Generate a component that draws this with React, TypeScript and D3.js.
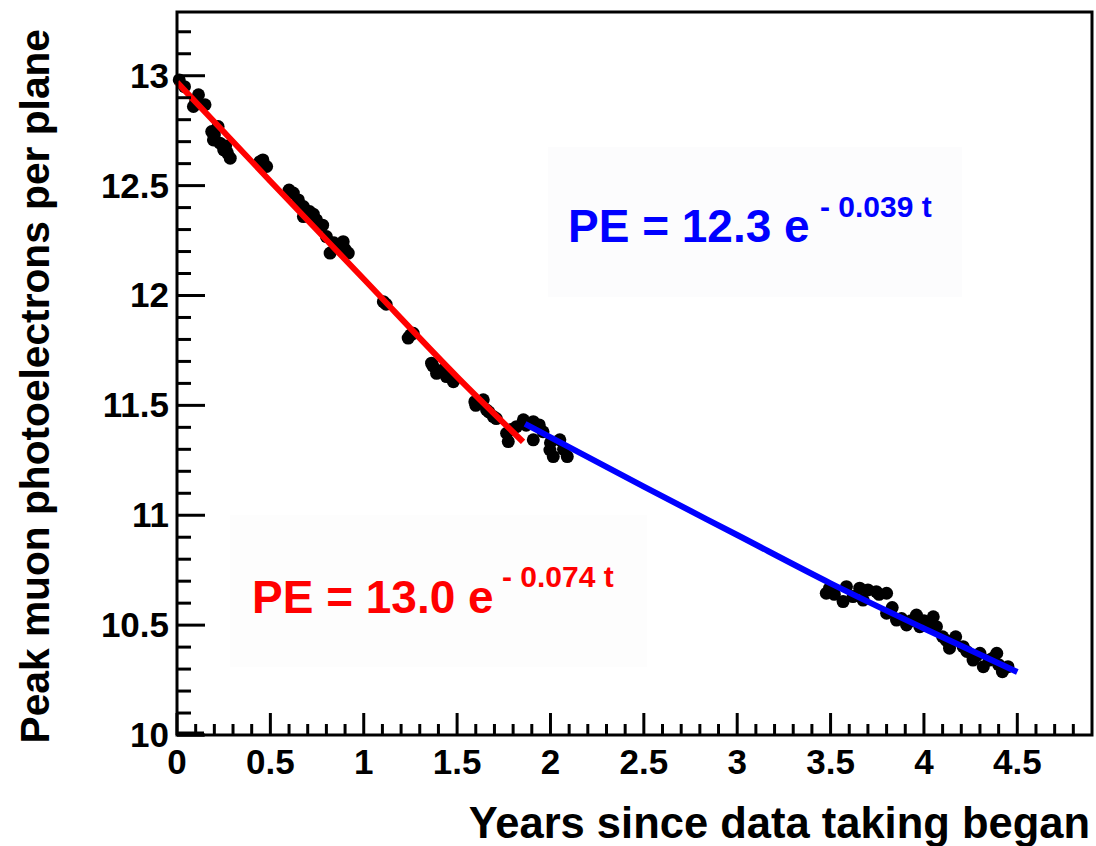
import React from "react";
import * as d3 from "d3";

// ---- data ----
const dataT = [
  0.012, 0.04, 0.088, 0.1, 0.115, 0.15, 0.186, 0.195, 0.2, 0.22, 0.23, 0.25, 0.26, 0.27, 0.285,
  0.444, 0.46, 0.48, 0.6, 0.623, 0.65, 0.677, 0.677, 0.71, 0.73, 0.747, 0.78, 0.8, 0.82, 0.84,
  0.86, 0.89, 0.9, 0.917, 1.105, 1.12, 1.238, 1.25, 1.265, 1.363, 1.37, 1.39, 1.42, 1.443, 1.48,
  1.595, 1.6, 1.64, 1.658, 1.67, 1.694, 1.71, 1.765, 1.774, 1.79, 1.818, 1.855, 1.87, 1.908,
  1.908, 1.94, 1.96, 1.997, 2.0, 2.015, 2.05, 2.07, 2.09,
  3.477, 3.495, 3.52, 3.567, 3.585, 3.62, 3.656, 3.674, 3.7, 3.745, 3.76, 3.8, 3.8, 3.83, 3.853,
  3.88, 3.907, 3.93, 3.96, 3.978, 4.0, 4.03, 4.05, 4.067, 4.1, 4.12, 4.137, 4.17, 4.21, 4.23,
  4.263, 4.28, 4.3, 4.318, 4.35, 4.37, 4.39, 4.4, 4.42, 4.45,
];
const dataPE = [
  12.981, 12.95, 12.86, 12.88, 12.913, 12.868, 12.746, 12.708, 12.73, 12.769, 12.693, 12.663, 12.68, 12.649, 12.625,
  12.609, 12.617, 12.587, 12.48, 12.466, 12.435, 12.405, 12.359, 12.382, 12.37, 12.344, 12.32, 12.268, 12.193, 12.24,
  12.23, 12.245, 12.21, 12.193, 11.972, 11.96, 11.806, 11.82, 11.828, 11.692, 11.68, 11.646, 11.66, 11.631, 11.608,
  11.517, 11.5, 11.525, 11.479, 11.47, 11.449, 11.44, 11.373, 11.335, 11.39, 11.403, 11.434, 11.41, 11.426,
  11.343, 11.411, 11.38, 11.297, 11.33, 11.267, 11.343, 11.3, 11.267,
  10.645, 10.669, 10.64, 10.607, 10.675, 10.63, 10.668, 10.614, 10.66, 10.652, 10.64, 10.645, 10.554, 10.58, 10.523,
  10.53, 10.501, 10.52, 10.546, 10.493, 10.52, 10.5, 10.538, 10.493, 10.447, 10.43, 10.395, 10.447, 10.402, 10.38,
  10.341, 10.36, 10.372, 10.311, 10.341, 10.35, 10.372, 10.32, 10.288, 10.311,
];

const redFitT = [0, 0.5, 1.0, 1.5, 1.853];
const redFitPE = [12.97, 12.52, 12.075, 11.63, 11.334];
const blueFitT = [1.864, 2.5, 3.0, 3.5, 4.0, 4.5];
const blueFitPE = [11.416, 11.13, 10.91, 10.69, 10.485, 10.287];

const xTickLabels = ["0", "0.5", "1", "1.5", "2", "2.5", "3", "3.5", "4", "4.5"];
const yTickLabels = ["10", "10.5", "11", "11.5", "12", "12.5", "13"];

const xTitle = "Years since data taking began";
const yTitle = "Peak muon photoelectrons per plane";
const blueMain = "PE = 12.3 e";
const blueSup = "- 0.039 t";
const redMain = "PE = 13.0 e";
const redSup = "- 0.074 t";

const FONT = "'Liberation Sans', Arial, Helvetica, sans-serif";

export default function App() {
  const W = 1096, H = 846;
  const left = 177, right = 1092, top = 12, bottom = 735;
  const x = d3.scaleLinear().domain([0, 4.9]).range([left, right]);
  const y = d3.scaleLinear().domain([10, 13.29]).range([bottom, top]);

  const xMinor = d3.range(0, 49).map((i) => i / 10);
  const yMinor = d3.range(0, 33).map((i) => 10 + i / 10);

  const line = d3
    .line<[number, number]>()
    .x((d) => x(d[0]))
    .y((d) => y(d[1]))
    .curve(d3.curveMonotoneX);

  const redPts = redFitT.map((t, i) => [t, redFitPE[i]] as [number, number]);
  const bluePts = blueFitT.map((t, i) => [t, blueFitPE[i]] as [number, number]);

  return (
    <svg
      width={W}
      height={H}
      style={{ position: "absolute", left: 0, top: 0, background: "#fff" }}
      fontFamily={FONT}
      fontWeight="bold"
    >
      <rect x={0} y={0} width={W} height={H} fill="#ffffff" />
      {/* annotation backgrounds */}
      <rect x={548} y={147} width={414} height={150} fill="#fcfcfd" />
      <rect x={230} y={515} width={417} height={152} fill="#fdfdfd" />

      {/* data points */}
      {dataT.map((t, i) => (
        <circle key={i} cx={x(t)} cy={y(dataPE[i])} r={6.5} fill="#000" />
      ))}
      {/* fit lines */}
      <path d={line(redPts) || ""} fill="none" stroke="#ff0000" strokeWidth={6} />
      <path d={line(bluePts) || ""} fill="none" stroke="#0000ff" strokeWidth={6} />

      {/* frame */}
      <rect x={left} y={top} width={right - left} height={bottom - top} fill="none" stroke="#000" strokeWidth={3} />
      <line x1={left} x2={left + 27} y1={bottom - 1} y2={bottom - 1} stroke="#000" strokeWidth={5} />

      {/* x ticks */}
      {xMinor.map((v, i) => (
        <line
          key={"xt" + i}
          x1={x(v)}
          x2={x(v)}
          y1={bottom}
          y2={bottom - (i % 5 === 0 ? 22 : 11)}
          stroke="#000"
          strokeWidth={3}
        />
      ))}
      {xTickLabels.map((s, i) => (
        <text key={"xl" + i} x={x(+s)} y={774} textAnchor="middle" fontSize={35} fill="#000">
          {s}
        </text>
      ))}

      {/* y ticks */}
      {yMinor.map((v, i) => (
        <line
          key={"yt" + i}
          x1={left}
          x2={left + (i % 5 === 0 ? 28 : 14)}
          y1={y(v)}
          y2={y(v)}
          stroke="#000"
          strokeWidth={3}
        />
      ))}
      {yTickLabels.map((s, i) => (
        <text key={"yl" + i} x={169} y={y(+s) + 12} textAnchor="end" fontSize={35} fill="#000">
          {s}
        </text>
      ))}

      {/* titles */}
      <text x={1090} y={838} textAnchor="end" fontSize={43.5} fill="#000">
        {xTitle}
      </text>
      <text
        transform={`translate(49, 29) rotate(-90)`}
        textAnchor="end"
        fontSize={40.7}
        fill="#000"
      >
        {yTitle}
      </text>

      {/* annotations */}
      <text x={568} y={242} fontSize={46} fill="#0000ff">
        {blueMain}
      </text>
      <text x={820} y={217} fontSize={30} fill="#0000ff">
        {blueSup}
      </text>
      <text x={252} y={613} fontSize={46} fill="#ff0000">
        {redMain}
      </text>
      <text x={502} y={587} fontSize={30} fill="#ff0000">
        {redSup}
      </text>
    </svg>
  );
}
